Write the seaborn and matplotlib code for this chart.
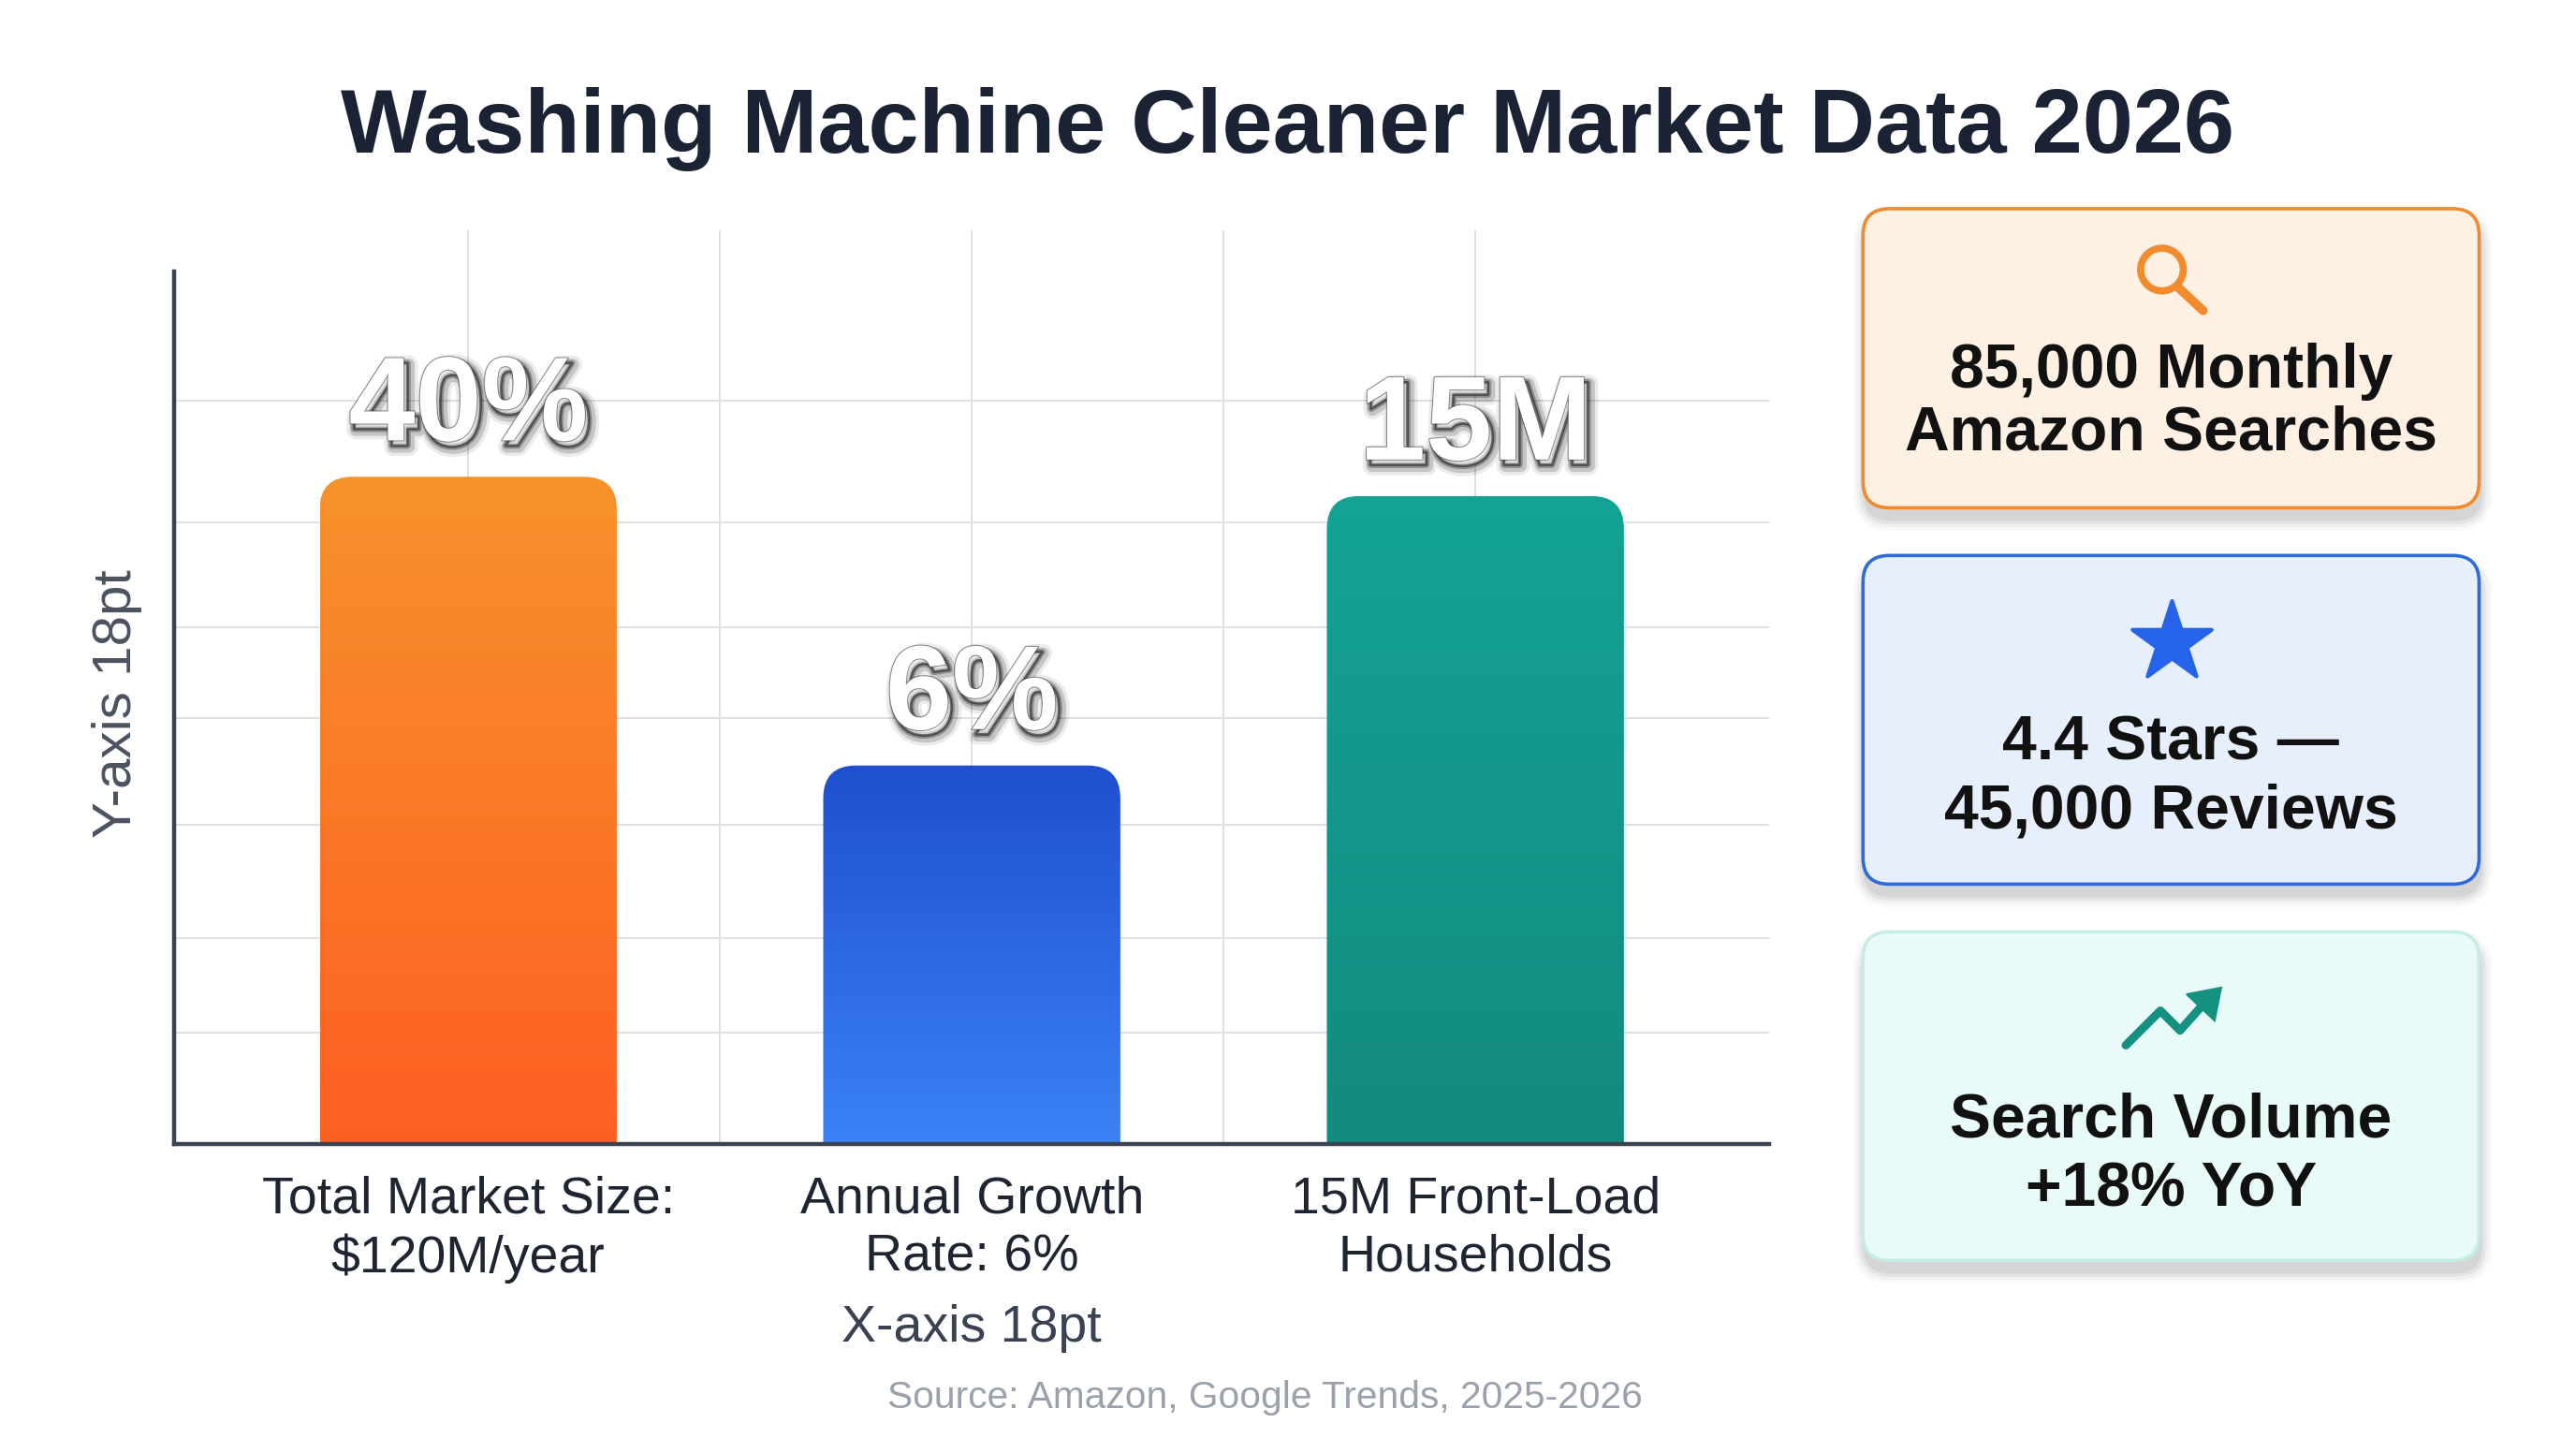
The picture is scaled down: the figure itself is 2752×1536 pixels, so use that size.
import matplotlib
matplotlib.use("Agg")
import matplotlib.pyplot as plt
import matplotlib.patheffects as pe
from matplotlib.patches import FancyBboxPatch, Circle, Polygon
from matplotlib.colors import to_rgb
import numpy as np
import pandas as pd
import seaborn as sns


# -----------------------------
# Data
# -----------------------------
title = "Washing Machine Cleaner Market Data 2026"
source = "Source: Amazon, Google Trends, 2025-2026"

categories = ["Total Market Size:\n$120M/year", "Annual Growth\nRate: 6%", "15M Front-Load\nHouseholds"]
bar_heights = [73.0, 41.4, 70.9]
bar_labels = ["40%", "6%", "15M"]
bar_top_colors = ["#F7922B", "#1F4FCF", "#14A395"]
bar_bottom_colors = ["#FE5F23", "#3B82F6", "#138A7F"]
grid_levels = [12.2, 22.5, 34.9, 46.6, 56.5, 68.0, 81.3]

card_lines = [
    ["85,000 Monthly", "Amazon Searches"],
    ["4.4 Stars \u2014", "45,000 Reviews"],
    ["Search Volume", "+18% YoY"],
]
card_fills = ["#FEF1E4", "#E8EFFC", "#E9FBF8"]
card_edges = ["#F08A2E", "#2F6BD8", "#C6ECE6"]


sns.set_theme(style="white")
plt.rcParams["font.family"] = ["Liberation Sans", "DejaVu Sans"]

fig = plt.figure(figsize=(27.52, 15.36), dpi=100)
fig.patch.set_facecolor("white")

# -----------------------------
# Bar chart
# -----------------------------
ax = fig.add_axes([0.0676, 0.2046, 0.6193, 0.6354])
df = pd.DataFrame({"category": categories, "value": bar_heights})
sns.barplot(data=df, x="category", y="value", ax=ax, width=0.59, color="#cccccc")

ax.set_xlim(-0.584, 2.584)
ax.set_ylim(0, 100)

shadow = [
    pe.Stroke(linewidth=14, foreground="black", alpha=0.08, offset=(4, -5)),
    pe.Stroke(linewidth=9, foreground="black", alpha=0.16, offset=(4, -5)),
    pe.Stroke(linewidth=5, foreground="black", alpha=0.28, offset=(3, -4)),
    pe.Stroke(linewidth=2, foreground="black", alpha=0.5, offset=(3, -4)),
    pe.Stroke(linewidth=1.5, foreground="#444444", alpha=0.6),
    pe.Normal(),
]

for patch, top, bottom, label in zip(ax.patches, bar_top_colors, bar_bottom_colors, bar_labels):
    x0 = patch.get_x()
    w = patch.get_width()
    h = patch.get_height()
    patch.set_visible(False)

    grad = np.linspace(0, 1, 256)[:, None, None]
    img = (1 - grad) * np.array(to_rgb(top)) + grad * np.array(to_rgb(bottom))
    clip = FancyBboxPatch((x0, -6), w, h + 6,
                          boxstyle="round,pad=0,rounding_size=0.065",
                          mutation_aspect=55, transform=ax.transData)
    im = ax.imshow(img, extent=(x0, x0 + w, 0, h), origin="upper",
                   aspect="auto", zorder=2)
    im.set_clip_path(clip)

    ax.annotate(label, (x0 + w / 2, h), xytext=(0, 28), textcoords="offset points",
                ha="center", va="baseline", fontsize=92, fontweight="bold",
                color="white", zorder=5, path_effects=shadow)

ax.set_xlim(-0.584, 2.584)
ax.set_ylim(0, 100)

ax.set_yticks(grid_levels)
ax.set_yticklabels([])
ax.set_xticks([0.5, 1.5], minor=True)
ax.grid(axis="y", which="major", color="#dde1e6", lw=1.4)
ax.grid(axis="x", which="both", color="#dde1e6", lw=1.4)
ax.set_axisbelow(True)
ax.tick_params(axis="both", which="both", length=0)
ax.tick_params(axis="x", pad=24, labelsize=40, labelcolor="#1f2530")
for t in ax.get_xticklabels():
    t.set_linespacing(1.25)

for s in ["top", "right"]:
    ax.spines[s].set_visible(False)
for s in ["left", "bottom"]:
    ax.spines[s].set_color("#3b4252")
    ax.spines[s].set_linewidth(3.2)
ax.spines["left"].set_bounds(0, 95.5)

ax.set_xlabel("X-axis 18pt", fontsize=40, color="#3a4150", labelpad=16)
ax.set_ylabel("Y-axis 18pt", fontsize=42, color="#4b5260")
ax.yaxis.set_label_coords(-0.02, (696 - 428) / 556)

# -----------------------------
# Title / source
# -----------------------------
fig.text(0.5, 1 - 93 / 875, title, ha="center", va="baseline",
         fontsize=70, fontweight="bold", color="#1a2233")
fig.text(770 / 1568, 1 - 857 / 875, source, ha="center", va="baseline",
         fontsize=29.3, color="#9aa1ab")

# -----------------------------
# Side cards (overlay in picture units)
# -----------------------------
ov = fig.add_axes([0, 0, 1, 1])
ov.set_xlim(0, 1568)
ov.set_ylim(875, 0)
ov.axis("off")

card_boxes = [(127, 309), (338, 538), (567, 767)]
cx0, cx1 = 1134, 1509
baselines = [(236, 274), (462, 504), (692, 734)]

for (y0, y1), fc, ec, lines, bl in zip(card_boxes, card_fills, card_edges, card_lines, baselines):
    for pad, a in [(7, 0.025), (5, 0.035), (3, 0.05), (1, 0.06)]:
        ov.add_patch(FancyBboxPatch((cx0 - pad + 1, y0 - pad + 7), cx1 - cx0 + 2 * pad, y1 - y0 + 2 * pad,
                                    boxstyle=f"round,pad=0,rounding_size={16 + pad}",
                                    fc="black", ec="none", alpha=a))
    ov.add_patch(FancyBboxPatch((cx0, y0), cx1 - cx0, y1 - y0,
                                boxstyle="round,pad=0,rounding_size=16",
                                fc=fc, ec=ec, lw=2.6))
    for line, b in zip(lines, bl):
        ov.text((cx0 + cx1) / 2, b, line, ha="center", va="baseline",
                fontsize=47.5, fontweight="bold", color="#111111")

# magnifier icon
ov.add_patch(Circle((1316, 164), 13, fill=False, ec="#F28A2E", lw=5.5))
ov.plot([1326, 1341], [175, 189], color="#F28A2E", lw=7, solid_capstyle="round")

# star icon
ov.scatter([1322], [391], marker="*", s=4100, color="#2563EB",
           edgecolors="#2563EB", linewidths=3)

# trend icon
ov.plot([1294, 1315, 1327, 1343], [636, 615, 627, 609], color="#14917F", lw=6.5,
        solid_capstyle="round", solid_joinstyle="round")
ov.add_patch(Polygon([(1331, 605), (1352, 601), (1348, 621)], closed=True,
                     fc="#14917F", ec="#14917F", lw=1.5))

fig.savefig("out.png", dpi=100, facecolor="white")
